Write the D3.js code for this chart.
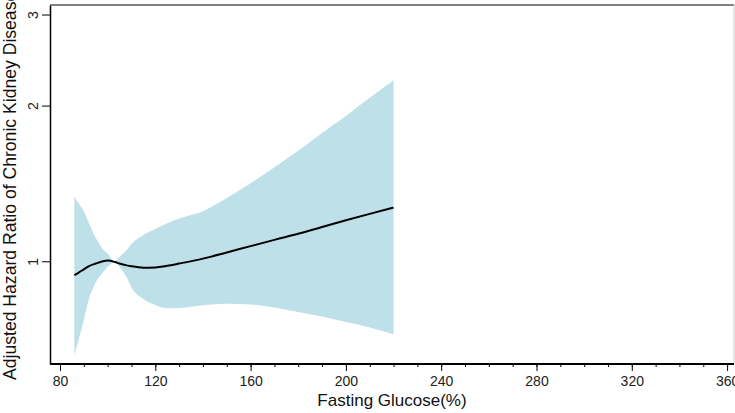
<!DOCTYPE html>
<html>
<head>
<meta charset="utf-8">
<script src="https://cdn.jsdelivr.net/npm/d3@7"></script>
<style>
  body { margin: 0; background: #fff; }
  text { font-family: "Liberation Sans", Arial, sans-serif; }
</style>
</head>
<body>
<svg id="fig" width="735" height="413"></svg>
<script>
const glucose = [86, 88, 90, 92, 95, 98, 100, 103, 105, 108, 110, 115, 120, 125, 130, 140, 150, 160, 170, 180, 190, 200, 210, 220];
// adjusted hazard ratio
const hazard  = [0.94, 0.952, 0.965, 0.978, 0.99, 1.0, 1.003, 0.997, 0.99, 0.982, 0.978, 0.972, 0.973, 0.98, 0.99, 1.012, 1.04, 1.07, 1.10, 1.13, 1.165, 1.20, 1.235, 1.27];
// 95% confidence band
const upper   = [1.335, 1.29, 1.25, 1.19, 1.11, 1.055, 1.035, 1.0, 1.02, 1.052, 1.08, 1.124, 1.155, 1.185, 1.21, 1.25, 1.325, 1.415, 1.52, 1.635, 1.77, 1.91, 2.07, 2.24];
const lower   = [0.658, 0.71, 0.77, 0.84, 0.91, 0.952, 0.975, 0.997, 0.975, 0.93, 0.89, 0.845, 0.823, 0.811, 0.812, 0.822, 0.828, 0.825, 0.814, 0.798, 0.782, 0.763, 0.745, 0.723];

const xTicks = [80, 120, 160, 200, 240, 280, 320, 360];
const xMinor = d3.range(80, 361, 10);
const yTicks = [1, 2, 3];

const mLeft = 50, mRight = 734, mTop = 5, mBottom = 364;

const data = glucose.map((g, i) => ({ g: g, hr: hazard[i], hi: upper[i], lo: lower[i] }));

const x = d3.scaleLinear()
    .domain([75.8, 362.9])
    .range([mLeft, mRight]);

const y = d3.scaleLog()
    .domain([0.633, 3.13])
    .range([mBottom, mTop]);

const fig = d3.select("#fig");

// confidence band
const band = d3.area()
    .x(d => x(d.g))
    .y0(d => y(d.lo))
    .y1(d => y(d.hi))
    .curve(d3.curveMonotoneX);

fig.append("path")
    .attr("d", band(data))
    .attr("fill", "#bee0e9");

// spline
const lineMaker = d3.line()
    .x(d => x(d.g))
    .y(d => y(d.hr))
    .curve(d3.curveMonotoneX);

fig.append("path")
    .attr("d", lineMaker(data))
    .attr("fill", "none")
    .attr("stroke", "#000")
    .attr("stroke-width", 2);

// frame: top and right are grey
fig.append("line")
    .attr("x1", mLeft).attr("x2", mRight)
    .attr("y1", mTop).attr("y2", mTop)
    .attr("stroke", "#808080").attr("stroke-width", 2);
fig.append("line")
    .attr("x1", mRight).attr("x2", mRight)
    .attr("y1", mTop).attr("y2", mBottom)
    .attr("stroke", "#cccccc").attr("stroke-width", 1);

// x axis, minor ticks first
fig.append("g")
    .attr("transform", "translate(0," + mBottom + ")")
    .call(d3.axisBottom(x).tickValues(xMinor).tickSize(3).tickFormat(""))
    .call(g => g.select(".domain").remove())
    .selectAll("line").attr("stroke-width", 1);

const xAxis = fig.append("g")
    .attr("transform", "translate(0," + mBottom + ")")
    .call(d3.axisBottom(x).tickValues(xTicks).tickSize(7).tickSizeOuter(0).tickPadding(5).tickFormat(d3.format("d")));
xAxis.select(".domain").attr("stroke-width", 2).attr("d", "M" + mLeft + ",0H" + mRight);
xAxis.selectAll("text").attr("font-size", 14).attr("fill", "#222");

// y axis, labels turned on their side
const yAxis = fig.append("g")
    .attr("transform", "translate(" + mLeft + ",0)")
    .call(d3.axisLeft(y).tickValues(yTicks).tickSize(8).tickSizeOuter(0).tickFormat(d3.format("d")));
yAxis.select(".domain").attr("stroke-width", 1.5);
yAxis.selectAll(".tick text")
    .attr("font-size", 14)
    .attr("fill", "#222")
    .attr("text-anchor", "middle")
    .attr("x", 0)
    .attr("y", 0)
    .attr("dy", 0)
    .attr("transform", "translate(-12,0) rotate(-90)");

// axis titles
fig.append("text")
    .attr("x", (mLeft + mRight) / 2)
    .attr("y", 406)
    .attr("text-anchor", "middle")
    .attr("font-size", 17)
    .attr("fill", "#111")
    .text("Fasting Glucose(%)");

fig.append("text")
    .attr("transform", "translate(16,380) rotate(-90)")
    .attr("text-anchor", "start")
    .attr("font-size", 17.6)
    .attr("fill", "#111")
    .text("Adjusted Hazard Ratio of Chronic Kidney Disease");
</script>
</body>
</html>
